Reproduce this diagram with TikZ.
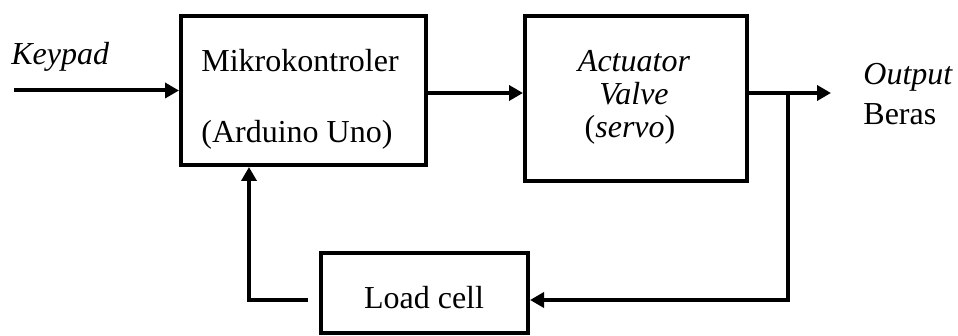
\documentclass[tikz,border=0pt]{standalone}
\usepackage{fontspec}
\setmainfont{Liberation Serif}
\usetikzlibrary{arrows.meta,positioning}

\begin{document}
\begin{tikzpicture}[x=0.5pt,y=-0.5pt]
        \tikzset{blok/.style={draw,line width=2pt,inner sep=0pt},
            teks/.style={inner sep=0pt,font=\fontsize{16}{19}\selectfont},
            garis/.style={line width=2pt},
            panah/.style={garis,-{Triangle[length=7pt,width=7.5pt]}}}
        \useasboundingbox (0,0) rectangle (958,336);
        % kotak
        \node[blok,minimum width=122.5pt,minimum height=74.5pt] (mikro) at (303.5,90.5) {};
        \node[blok,minimum width=111pt,minimum height=82.5pt] (aktuator) at (636,98.5) {};
        \node[blok,minimum width=103.5pt,minimum height=40pt] (loadcell) at (424.5,293) {};
        % teks
        \node[teks,anchor=base west] (keypad) at (11,65) {\textit{Keypad}};
        \node[teks,anchor=base west] (mikro1) at (201,72) {Mikrokontroler};
        \node[teks,anchor=base west] (mikro2) at (201,143) {(Arduino Uno)};
        \node[teks,anchor=base] (akt1) at (634,72) {\textit{Actuator}};
        \node[teks,anchor=base] (akt2) at (634,105) {\textit{Valve}};
        \node[teks,anchor=base] (akt3) at (630,138) {(\textit{servo})};
        \node[teks,anchor=base] (lc) at (424,308) {Load cell};
        \node[teks,anchor=base west] (out1) at (863,85) {\textit{Output}};
        \node[teks,anchor=base west] (out2) at (863,125) {Beras};
        % titik bantu
        \coordinate (masuk) at (14,90.5);
        \coordinate (jalur) at (0,93);
        \coordinate (keluar) at (831,93);
        \coordinate (cabang) at (788,93);
        \coordinate (umpan) at (0,300);
        \coordinate (balik) at (308,300);
        \coordinate (naik) at (249,0);
        % panah
        \draw[panah] (masuk) -- (mikro.west);
        \draw[panah] (mikro.east |- jalur) -- (aktuator.west |- jalur);
        \draw[panah] (aktuator.east |- jalur) -- (keluar);
        \draw[panah] (cabang) |- (loadcell.east |- umpan);
        \draw[panah] (balik) -| (naik |- mikro.south);
    \end{tikzpicture}
\end{document}
